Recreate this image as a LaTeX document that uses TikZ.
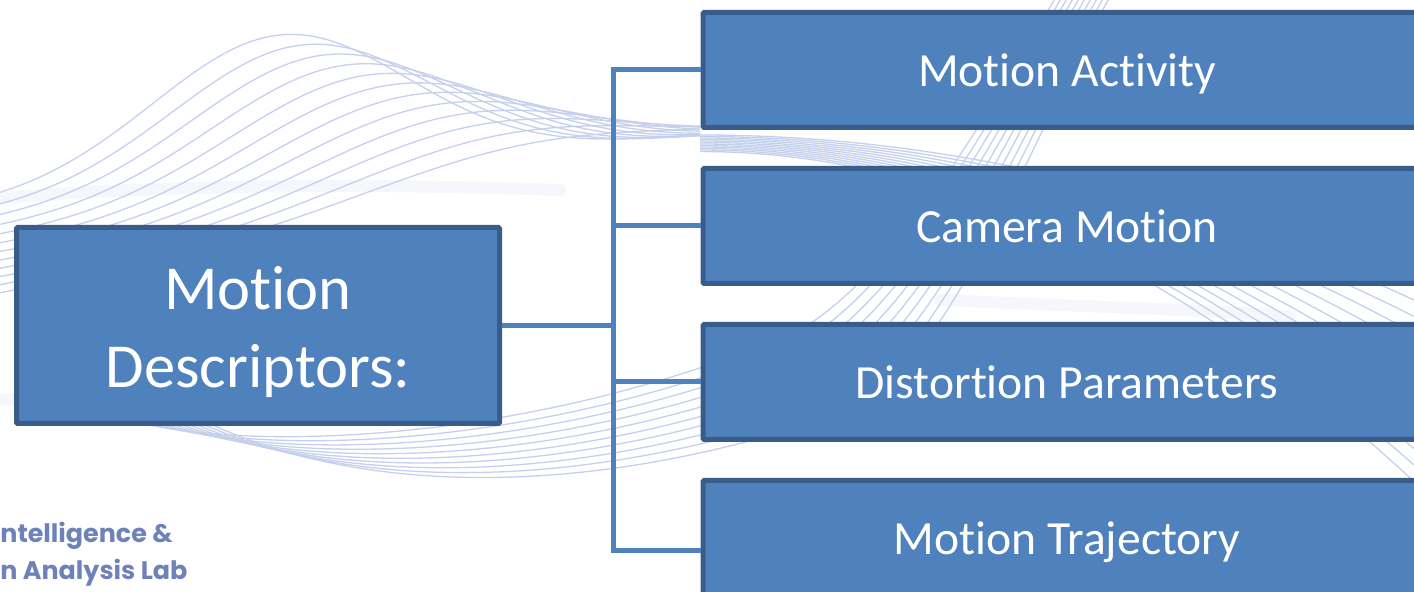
\documentclass[tikz,border=0pt]{standalone}
\usepackage{fontspec}
\setmainfont{Carlito}[Ligatures=NoCommon]
\newfontfamily\labfont{Poppins}
\definecolor{boxfill}{HTML}{4F81BD}
\definecolor{boxedge}{HTML}{385D8A}
\definecolor{wavecol}{RGB}{196,208,236}
\definecolor{haze}{RGB}{245,247,252}
\definecolor{labcol}{RGB}{110,130,185}
\tikzset{
  wave/.style={draw=wavecol, line width=0.65pt},
  hazeband/.style={draw=haze, line width=6pt, line cap=round},
  leaf/.style={draw=boxedge, fill=boxfill, line width=2.5pt, rounded corners=0.6pt,
    minimum width=364pt, minimum height=57.5pt, inner sep=0pt, text=white,
    font=\fontsize{23.8}{28}\selectfont, text height=17pt, text depth=0pt},
  rootbox/.style={draw=boxedge, fill=boxfill, line width=2.5pt, rounded corners=0.6pt,
    minimum width=241.5pt, minimum height=98pt, inner sep=0pt, text=white, align=center,
    font=\fontsize{31.3}{39}\selectfont, text height=62pt, text depth=0pt},
  link/.style={draw=boxfill, line width=2.5pt, line join=miter},
  lab/.style={text=labcol, font=\labfont\bfseries\fontsize{12.7}{15}\selectfont, anchor=base west, inner sep=0pt}
}
\begin{document}
\begin{tikzpicture}[x=0.5pt, y=-0.5pt]
\useasboundingbox (0,0) rectangle (1414,592);
\clip (0,0) rectangle (1414,592);

% soft background streaks
\draw[hazeband] (0,198) .. controls (200,182) and (420,185) .. (560,190);
\draw[hazeband] (0,400) -- (40,396);
\draw[hazeband] (940,300) .. controls (1050,305) and (1200,310) .. (1290,316);

% upper wave bundle
\foreach \i in {0,...,11}{
  \pgfmathsetmacro\C{280+22*\i}
  \pgfmathsetmacro\A{205+8*\i-(70+6.5*\i)*(\C/700)-(35+10*\i)}
  \pgfmathsetmacro\W{180+4*\i}
  \draw[wave] plot[domain=0:700, samples=90, smooth]
    (\x,{205+8*\i-(70+6.5*\i)*(\x/700)-\A*exp(-((\x-\C)/\W)^2)});
  \draw[wave] plot[domain=700:1414, samples=40, smooth]
    (\x,{135+1.5*\i+(165+15*\i)*((\x-700)/714)^2});
}

% lower wave bundle sweeping up to the right
\foreach \i in {0,...,9}{
  \draw[wave] (130+8*\i,420) .. controls (230+15*\i,450+5.5*\i) and (520+10*\i,450+5.5*\i)
    .. (800+8*\i,330+8*\i) .. controls (900+8*\i,270+5*\i) and (990+6*\i,110) .. (1060+6*\i,-10);
}

% diagram boxes
\node[rootbox] (root) at (258,325.5) {Motion\\Descriptors:};
\node[leaf] (act)  at (1067,70)  {Motion Activity};
\node[leaf] (cam)  at (1067,226) {Camera Motion};
\node[leaf] (dist) at (1067,382) {Distortion Parameters};
\node[leaf] (traj) at (1067,538) {Motion Trajectory};

% bracket connector
\coordinate (hub) at (613.5,325.5);
\draw[link] (root.east) -- (hub);
\draw[link] (act.west) -| (hub);
\draw[link] (cam.west) -| (hub);
\draw[link] (dist.west) -| (hub);
\draw[link] ([yshift=-6.25pt]traj.west) -| (hub);

% lab name
\node[lab] (lab1) at (0,543) {ntelligence \&};
\node[lab] (lab2) at (0,580) {n Analysis Lab};
\end{tikzpicture}
\end{document}
